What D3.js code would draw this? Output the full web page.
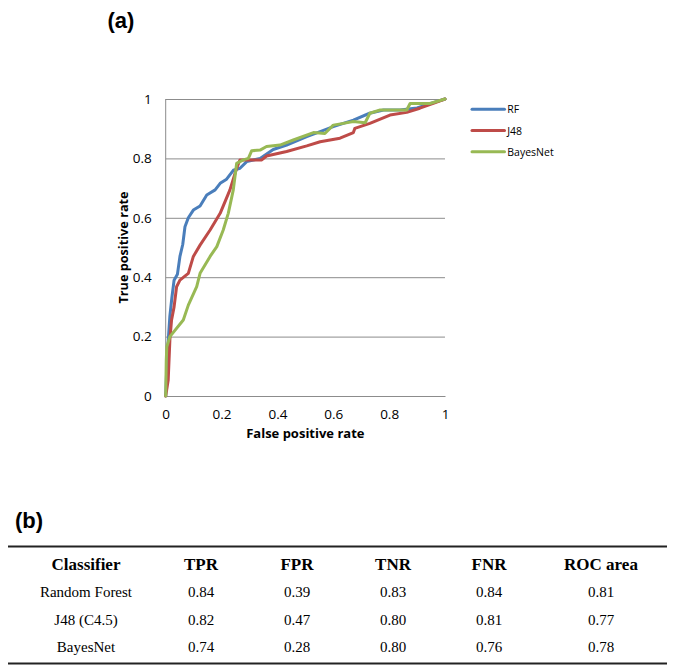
<!DOCTYPE html>
<html>
<head>
<meta charset="utf-8">
<script src="https://cdn.jsdelivr.net/npm/d3@7"></script>
<style>
  html, body { margin: 0; padding: 0; background: #fff; }
  svg { display: block; }
</style>
</head>
<body>
<svg id="chart" width="675" height="666"></svg>
<script>
// ---- Data ----
const seriesNames = ["RF", "J48", "BayesNet"];
const rfFPR = [0, 0.004, 0.01, 0.015, 0.022, 0.03, 0.042, 0.051, 0.061, 0.069, 0.081, 0.099, 0.123, 0.147, 0.177, 0.195, 0.218, 0.242, 0.266, 0.29, 0.338, 0.385, 0.433, 0.505, 0.553, 0.6, 0.672, 0.73, 0.78, 0.839, 0.9, 0.958, 1];
const rfTPR = [0, 0.1, 0.2, 0.27, 0.33, 0.39, 0.41, 0.47, 0.51, 0.57, 0.6, 0.626, 0.64, 0.677, 0.694, 0.716, 0.73, 0.76, 0.767, 0.789, 0.8, 0.83, 0.845, 0.873, 0.89, 0.907, 0.929, 0.952, 0.963, 0.963, 0.97, 0.988, 1];
const j48FPR = [0, 0.009, 0.015, 0.021, 0.03, 0.039, 0.051, 0.081, 0.099, 0.123, 0.159, 0.195, 0.23, 0.254, 0.266, 0.29, 0.344, 0.361, 0.433, 0.505, 0.553, 0.624, 0.672, 0.677, 0.731, 0.803, 0.863, 0.91, 0.958, 1];
const j48TPR = [0, 0.054, 0.19, 0.256, 0.3, 0.368, 0.39, 0.413, 0.47, 0.508, 0.559, 0.615, 0.694, 0.767, 0.795, 0.795, 0.795, 0.808, 0.823, 0.842, 0.856, 0.868, 0.887, 0.901, 0.918, 0.946, 0.955, 0.969, 0.985, 1];
const bnFPR = [0, 0.002, 0.004, 0.015, 0.063, 0.081, 0.111, 0.123, 0.159, 0.183, 0.206, 0.224, 0.242, 0.254, 0.278, 0.296, 0.308, 0.338, 0.361, 0.409, 0.457, 0.529, 0.57, 0.6, 0.636, 0.672, 0.714, 0.731, 0.768, 0.863, 0.875, 0.946, 1];
const bnTPR = [0, 0.12, 0.166, 0.2, 0.256, 0.306, 0.368, 0.413, 0.47, 0.503, 0.559, 0.615, 0.694, 0.783, 0.795, 0.8, 0.826, 0.828, 0.84, 0.845, 0.862, 0.887, 0.884, 0.912, 0.918, 0.924, 0.92, 0.952, 0.963, 0.963, 0.985, 0.985, 1];
const xTicks = [0, 0.2, 0.4, 0.6, 0.8, 1];
const yTicks = [0, 0.2, 0.4, 0.6, 0.8, 1];

const tableHeaders = ["Classifier", "TPR", "FPR", "TNR", "FNR", "ROC area"];
const classifiers = ["Random Forest", "J48 (C4.5)", "BayesNet"];
const tprVals = ["0.84", "0.82", "0.74"];
const fprVals = ["0.39", "0.47", "0.28"];
const tnrVals = ["0.83", "0.80", "0.80"];
const fnrVals = ["0.84", "0.81", "0.76"];
const rocVals = ["0.81", "0.77", "0.78"];

// ---- Layout ----
const svg = d3.select("#chart");
const colors = ["#4A7EBB", "#BE4B48", "#98B954"];
const plot = { left: 165.7, top: 99, width: 279.3, height: 297 };
const chartFont = "'Open Sans', 'Liberation Sans', sans-serif";

const x = d3.scaleLinear().domain([0, 1]).range([plot.left, plot.left + plot.width]);
const y = d3.scaleLinear().domain([0, 1]).range([plot.top + plot.height, plot.top]);

// Panel label (a)
svg.append("text").attr("x", 121).attr("y", 28).attr("text-anchor", "middle")
  .attr("font-family", "'Liberation Sans', Arial, sans-serif").attr("font-weight", "bold")
  .attr("font-size", 22).text("(a)");

// Y axis with gridlines
const yAxis = svg.append("g").attr("transform", `translate(${plot.left},0)`)
  .call(d3.axisLeft(y).tickValues(yTicks).tickSize(-plot.width).tickPadding(14)
    .tickFormat(d => d3.format("")(d)));
yAxis.select(".domain").remove();
yAxis.selectAll(".tick line").attr("stroke", "#8C8C8C").attr("stroke-width", 1);
yAxis.selectAll(".tick text").attr("font-family", chartFont).attr("font-size", 13.5).attr("fill", "#000");

// Left axis line
svg.append("line").attr("x1", plot.left).attr("x2", plot.left)
  .attr("y1", plot.top).attr("y2", plot.top + plot.height)
  .attr("stroke", "#8C8C8C").attr("stroke-width", 1);

// X axis
const xAxis = svg.append("g").attr("transform", `translate(0,${plot.top + plot.height})`)
  .call(d3.axisBottom(x).tickValues(xTicks).tickSize(0).tickPadding(13)
    .tickFormat(d => d3.format("")(d)));
xAxis.select(".domain").attr("stroke", "#8C8C8C");
xAxis.selectAll(".tick text").attr("font-family", chartFont).attr("font-size", 13.5).attr("fill", "#000");

// Axis titles
svg.append("text").attr("x", plot.left + plot.width / 2).attr("y", 438).attr("text-anchor", "middle")
  .attr("font-family", chartFont).attr("font-weight", "bold").attr("font-size", 13)
  .text("False positive rate");
svg.append("text").attr("transform", `translate(128,${plot.top + plot.height / 2}) rotate(-90)`)
  .attr("text-anchor", "middle")
  .attr("font-family", chartFont).attr("font-weight", "bold").attr("font-size", 12.7)
  .text("True positive rate");

// Lines
const series = [
  { name: seriesNames[0], xs: rfFPR, ys: rfTPR },
  { name: seriesNames[1], xs: j48FPR, ys: j48TPR },
  { name: seriesNames[2], xs: bnFPR, ys: bnTPR }
];
const line = d3.line().x(d => x(d[0])).y(d => y(d[1]));
series.forEach((s, i) => {
  const pts = s.xs.map((v, k) => [v, s.ys[k]]);
  svg.append("path").datum(pts).attr("d", line)
    .attr("fill", "none").attr("stroke", colors[i]).attr("stroke-width", 3)
    .attr("stroke-linejoin", "round").attr("stroke-linecap", "round");
});

// Legend
const legend = svg.append("g");
series.forEach((s, i) => {
  const ly = 109.3 + i * 21.2;
  legend.append("line").attr("x1", 472).attr("x2", 504.5).attr("y1", ly).attr("y2", ly)
    .attr("stroke", colors[i]).attr("stroke-width", 3).attr("stroke-linecap", "round");
  legend.append("text").attr("x", 507.3).attr("y", ly + 4)
    .attr("font-family", chartFont).attr("font-size", 10.5).attr("fill", "#000").text(s.name);
});

// ---- Table (b) ----
svg.append("text").attr("x", 29).attr("y", 528).attr("text-anchor", "middle")
  .attr("font-family", "'Liberation Sans', Arial, sans-serif").attr("font-weight", "bold")
  .attr("font-size", 22).text("(b)");

const colX = [86, 201, 297, 393, 489, 601];
const tableFont = "'Liberation Serif', 'Times New Roman', serif";
svg.append("line").attr("x1", 8).attr("x2", 667).attr("y1", 546.5).attr("y2", 546.5)
  .attr("stroke", "#222").attr("stroke-width", 2);
svg.append("line").attr("x1", 8).attr("x2", 667).attr("y1", 663.5).attr("y2", 663.5)
  .attr("stroke", "#222").attr("stroke-width", 2);

svg.append("g").selectAll("text").data(tableHeaders).join("text")
  .attr("x", (d, i) => colX[i]).attr("y", 569.5).attr("text-anchor", "middle")
  .attr("font-family", tableFont).attr("font-weight", "bold").attr("font-size", 17)
  .text(d => d);

const rows = classifiers.map((c, i) => [c, tprVals[i], fprVals[i], tnrVals[i], fnrVals[i], rocVals[i]]);
const rowY = [597.3, 625, 652.3];
rows.forEach((r, ri) => {
  svg.append("g").selectAll("text").data(r).join("text")
    .attr("x", (d, i) => colX[i]).attr("y", rowY[ri]).attr("text-anchor", "middle")
    .attr("font-family", tableFont).attr("font-size", 15)
    .text(d => d);
});
</script>
</body>
</html>
